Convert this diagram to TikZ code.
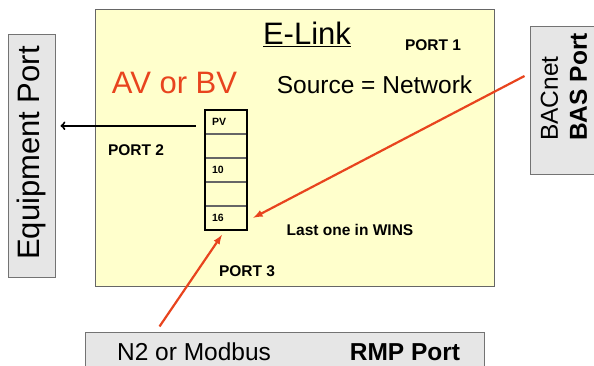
\documentclass[tikz,border=0pt]{standalone}
\usepackage{fontspec}
\setmainfont{Liberation Sans}
\usepackage{tikz}
\usetikzlibrary{positioning}
\usetikzlibrary{arrows}
\usepackage{xcolor}
\definecolor{elinkyellow}{RGB}{255,255,204}
\definecolor{portgray}{RGB}{230,230,230}
\definecolor{signalred}{RGB}{232,68,30}

\begin{document}
\begin{tikzpicture}
[x=1pt, y=1pt,
% The port style is used for the grey boxes round the E-Link
port/.style={rectangle, draw=black!55, line width=1pt, fill=portgray, inner sep=0pt},
% big and mid are used for the large texts
big/.style={inner sep=0pt, font=\fontsize{31}{36}\selectfont},
mid/.style={inner sep=0pt, font=\fontsize{24.5}{29}\selectfont},
% The portname style is used for the small bold labels
portname/.style={inner sep=0pt, font=\bfseries\fontsize{15.5}{18}\selectfont},
% The cell style is used to draw the priority array
cell/.style={rectangle, draw=black!60, minimum width=42pt, minimum height=23.6pt, text width=28pt, inner xsep=7pt, inner ysep=0pt, align=left, font=\bfseries\fontsize{10.5}{12}\selectfont},
wire/.style={draw=signalred, line width=2.2pt, -latex}
]
\clip (0,0) rectangle (594,366);
% Draw the boxes
\node [rectangle, draw=black!60, line width=1pt, fill=elinkyellow, minimum width=399pt, minimum height=277pt] (elink) at (294.5,217.5) {};
\node [port, minimum width=47pt, minimum height=243pt] (equip) at (31.5,209.5) {};
\node [big, rotate=90] (equiptext) at (31.5,213) {Equipment Port};
\node [port, minimum width=70pt, minimum height=148pt] (bas) at (565,265) {};
\node [mid, rotate=90, align=left] (bastext) at (564,279) {BACnet\\\textbf{BAS Port}};
\node [port, minimum width=399pt, minimum height=42pt] (rmp) at (284.5,12) {};
\node [mid] (n2text) at (194,14) {N2 or Modbus};
\node [mid, font=\bfseries\fontsize{24.5}{29}\selectfont] (rmptext) at (405,14) {RMP Port};

% Texts in the E-Link
\node [big, anchor=base] (title) at (307,321) {\underline{E-Link}};
\node [portname] (port1) at (433,321) {PORT 1};
\node [big, text=signalred] (avbv) at (174.5,283) {AV or BV};
\node [mid] (source) at (374.5,281) {Source = Network};
\node [portname] (port2) at (136,216) {PORT 2};
\node [portname] (wins) at (350,136) {Last one in WINS};
\node [portname] (port3) at (247,95) {PORT 3};

% Priority array
\node [cell] (pv) at (226,244.2) {PV};
\node [cell, below=0pt of pv] (slot2) {};
\node [cell, below=0pt of slot2] (ten) {10};
\node [cell, below=0pt of ten] (slot4) {};
\node [cell, below=0pt of slot4] (sixteen) {16};
\draw [line width=1.8pt] (pv.north west) rectangle (sixteen.south east);

% Draw the connections
\draw [->, line width=2pt, shorten <=9pt, shorten >=5pt] ([yshift=-4pt]pv.west) -- ([yshift=-4pt]pv.west -| equip.east);
\draw [wire] ([xshift=-5pt, yshift=25pt]bas.west) -- ([xshift=6pt]sixteen.east);
\draw [wire] ([xshift=75pt, yshift=6pt]rmp.north west) -- ([xshift=-4pt, yshift=-5pt]sixteen.south);
\end{tikzpicture}
\end{document}
